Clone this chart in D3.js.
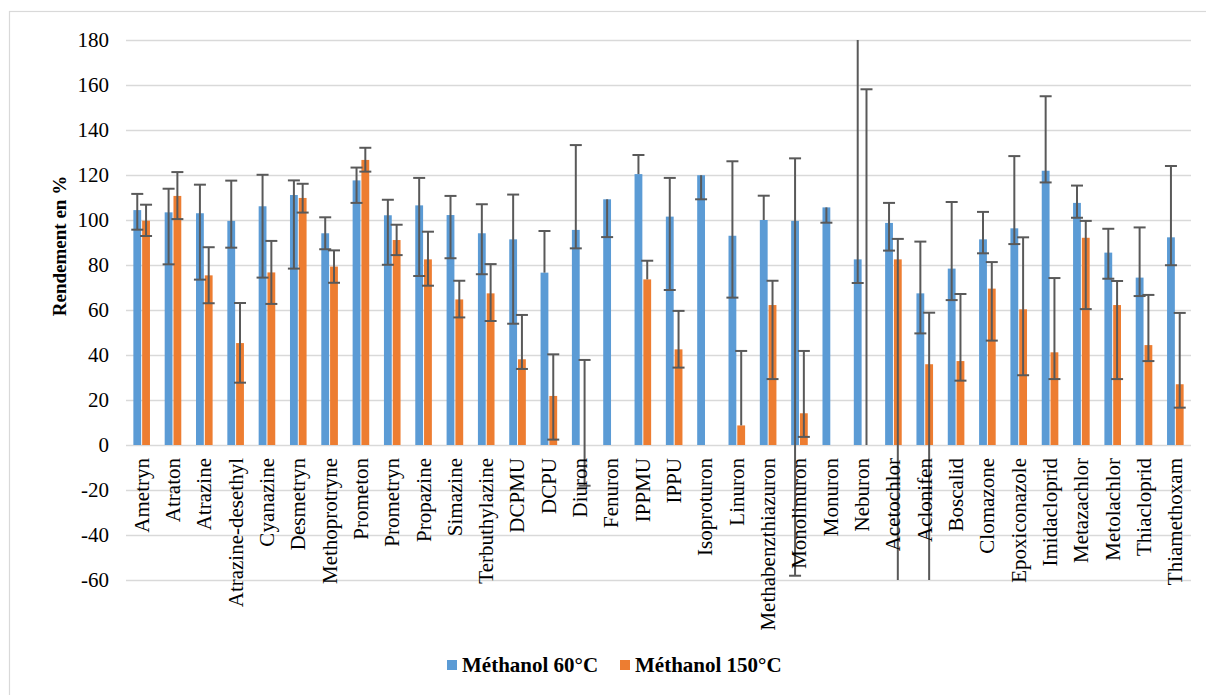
<!DOCTYPE html>
<html><head><meta charset="utf-8">
<script src="https://cdn.jsdelivr.net/npm/d3@7"></script>
<style>body{margin:0;background:#fff}svg{display:block}</style>
</head><body>
<svg id="c" width="1206" height="695" style="font-family:'Liberation Serif'"></svg>
<script>
const categories = ["Ametryn","Atraton","Atrazine","Atrazine-desethyl","Cyanazine","Desmetryn","Methoprotryne","Prometon","Prometryn","Propazine","Simazine","Terbuthylazine","DCPMU","DCPU","Diuron","Fenuron","IPPMU","IPPU","Isoproturon","Linuron","Methabenzthiazuron","Monolinuron","Monuron","Neburon","Acetochlor","Aclonifen","Boscalid","Clomazone","Epoxiconazole","Imidacloprid","Metazachlor","Metolachlor","Thiacloprid","Thiamethoxam"];
const seriesNames = ["Méthanol 60°C","Méthanol 150°C"];
const methanol60 = [104.4,103.4,103.0,99.6,106.1,111.1,94.1,117.6,102.1,106.5,102.2,94.1,91.4,76.6,95.6,109.2,120.4,101.5,119.9,93.0,100.0,99.6,105.6,82.5,98.7,67.4,78.4,91.4,96.3,121.9,107.6,85.5,74.4,92.3];
const methanol150 = [99.7,110.7,75.4,45.3,76.7,109.8,79.3,126.7,91.1,82.5,64.7,67.4,38.1,21.8,0,null,73.6,42.5,null,8.7,62.2,14.1,null,0,82.5,35.9,37.3,69.5,60.3,41.2,92.1,62.2,44.4,27.0];
const err60High = [111.6,113.9,115.7,117.5,120.1,117.6,101.2,123.3,109.0,118.7,110.7,107.0,111.3,95.1,133.3,null,128.9,118.7,null,126.1,110.8,127.4,null,190,107.6,90.4,108.0,103.6,128.4,155.0,115.3,96.1,96.7,124.0];
const err60Low = [95.7,80.3,73.5,87.7,74.4,78.4,87.0,107.6,80.1,75.1,83.0,75.9,53.9,null,87.4,92.4,null,68.9,109.2,65.5,null,-58.1,98.8,72.0,86.4,49.6,64.4,85.2,89.3,116.7,101.0,73.9,66.2,79.9];
const err150High = [106.8,121.3,87.9,63.1,90.7,116.1,86.5,132.1,97.9,94.8,73.0,80.4,57.8,40.3,37.8,null,81.9,59.6,null,41.8,73.0,41.8,null,158.1,91.6,58.8,67.1,81.3,92.3,74.2,99.6,72.9,66.7,58.7];
const err150Low = [92.9,100.4,63.0,27.7,62.7,103.3,72.1,121.5,84.4,70.8,56.7,55.1,33.8,2.4,-18.1,null,null,34.4,null,null,29.3,3.6,null,null,-70,-70,28.6,46.4,31.0,29.3,60.4,29.3,37.3,16.6];
const yTicks = [-60,-40,-20,0,20,40,60,80,100,120,140,160,180];
const colors = ["#5b9bd5","#ed7d31"];

const FONT = "Liberation Serif";
const svg = d3.select("#c");
const L = 126, R = 1191, T = 40, B = 580;
const x = d3.scaleBand().domain(categories).range([L, R]).paddingInner(0).paddingOuter(0);
const bw = x.bandwidth();
const xs = d3.scaleBand().domain(seriesNames).range([bw/2 - 8.3, bw/2 + 8.3]).paddingInner(0.11);
const y = d3.scaleLinear().domain([-60, 180]).range([B, T]);

// outer frame
svg.append("rect").attr("x", 9.5).attr("y", 11.5).attr("width", 1220).attr("height", 720)
  .attr("fill", "none").attr("stroke", "#d9d9d9").attr("stroke-width", 1.2);

svg.append("defs").append("clipPath").attr("id", "plotclip")
  .append("rect").attr("x", L - 5).attr("y", T).attr("width", R - L + 10).attr("height", B - T);

// gridlines + y axis labels
const yAxis = d3.axisLeft(y).tickValues(yTicks).tickSize(-(R - L)).tickPadding(17).tickFormat(d => String(d));
const ga = svg.append("g").attr("transform", `translate(${L},0)`).call(yAxis);
ga.attr("font-family", FONT).attr("font-size", 21);
ga.select(".domain").remove();
ga.selectAll(".tick line").attr("stroke", "#d9d9d9").attr("stroke-width", 1.5);
ga.selectAll(".tick text").attr("font-family", FONT).attr("font-size", 21).attr("fill", "#000");

// bars
const data = [methanol60, methanol150];
const errH = [err60High, err150High];
const errL = [err60Low, err150Low];
const gBars = svg.append("g");
seriesNames.forEach((s, si) => {
  gBars.selectAll(null).data(categories.map((c, i) => ({c, v: data[si][i]})).filter(d => d.v !== null && d.v !== 0))
    .enter().append("rect")
    .attr("x", d => x(d.c) + xs(s))
    .attr("width", xs.bandwidth())
    .attr("y", d => y(Math.max(0, d.v)))
    .attr("height", d => Math.abs(y(d.v) - y(0)))
    .attr("fill", colors[si]);
});

// error bars
const gErr = svg.append("g").attr("clip-path", "url(#plotclip)");
const ecol = "#595959", capW = 6;
seriesNames.forEach((s, si) => {
  categories.forEach((c, i) => {
    const v = data[si][i];
    if (v === null) return;
    const hi = errH[si][i], lo = errL[si][i];
    const cx = x(c) + xs(s) + xs.bandwidth() / 2;
    const top = hi !== null ? hi : v, bot = lo !== null ? lo : v;
    if (top === bot) return;
    gErr.append("line").attr("x1", cx).attr("x2", cx).attr("y1", y(top)).attr("y2", y(bot))
      .attr("stroke", ecol).attr("stroke-width", 2);
    [hi, lo].forEach(e => {
      if (e === null) return;
      gErr.append("line").attr("x1", cx - capW).attr("x2", cx + capW).attr("y1", y(e)).attr("y2", y(e))
        .attr("stroke", ecol).attr("stroke-width", 2);
    });
  });
});

// category labels
const gx = svg.append("g").attr("font-family", FONT).attr("font-size", 21);
gx.selectAll("text").data(categories).enter().append("text")
  .attr("transform", d => `translate(${x(d) + bw/2},${458}) rotate(-90)`)
  .attr("text-anchor", "end").attr("dy", "0.33em")
  .attr("fill", "#000").text(d => d);

// y axis title
svg.append("text").attr("transform", "translate(60,246) rotate(-90)")
  .attr("text-anchor", "middle").attr("dy", "0.33em")
  .attr("font-family", FONT).attr("font-size", 19)
  .attr("font-weight", "bold").attr("fill", "#000").text("Rendement en %");

// legend
const legX = [447, 620];
const gl = svg.append("g").attr("font-family", FONT).attr("font-size", 21).attr("font-weight", "bold");
seriesNames.forEach((s, si) => {
  gl.append("rect").attr("x", legX[si]).attr("y", 660).attr("width", 10).attr("height", 10).attr("fill", colors[si]);
  gl.append("text").attr("x", legX[si] + 15).attr("y", 672).attr("fill", "#000").text(s);
});
</script>
</body></html>
